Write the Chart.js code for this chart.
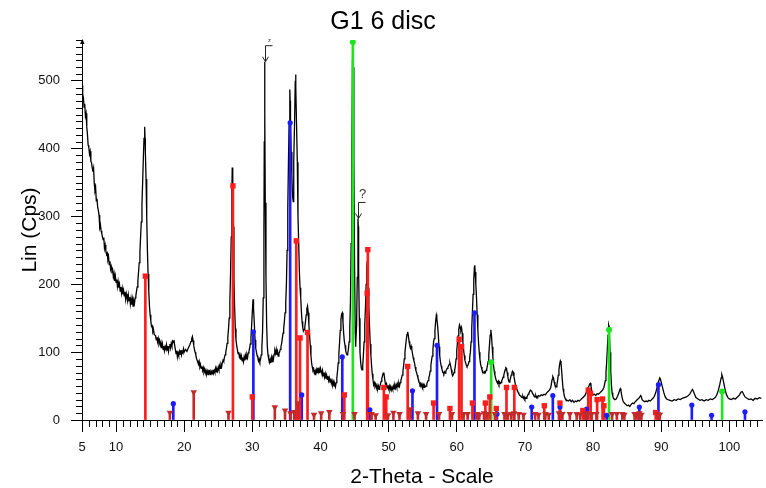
<!DOCTYPE html>
<html>
<head>
<meta charset="utf-8">
<title>G1 6 disc</title>
<script src="https://cdn.jsdelivr.net/npm/chart.js@4"></script>
<style>
    html, body { margin: 0; padding: 0; background: #fff; }
    #wrap { width: 766px; height: 488px; }
</style>
</head>
<body>
<div id="wrap"><canvas id="xrdChart" width="766" height="488"></canvas></div>
<script>
// measured scan: [2-theta, counts]
const scan = [
    [5.0,493],[5.1,480],[5.2,476],[5.3,461],[5.4,466],[5.5,448],[5.6,452],[5.7,432],[5.8,421],[5.9,405],
    [6.0,402],[6.1,392],[6.2,396],[6.3,381],[6.4,379],[6.5,372],[6.6,366],[6.7,371],[6.8,349],[6.9,338],
    [7.0,342],[7.1,323],[7.2,326],[7.3,314],[7.4,309],[7.5,302],[7.6,284],[7.7,288],[7.8,279],[7.9,275],
    [8.0,270],[8.1,266],[8.2,269],[8.3,253],[8.4,258],[8.5,249],[8.6,244],[8.7,246],[8.8,236],[8.9,240],
    [9.0,229],[9.1,234],[9.2,222],[9.3,226],[9.4,219],[9.5,221],[9.6,211],[9.7,216],[9.8,205],[9.9,212],
    [10.0,203],[10.1,207],[10.2,197],[10.3,204],[10.4,195],[10.5,200],[10.6,190],[10.7,196],[10.8,187],[10.9,194],
    [11.0,185],[11.1,191],[11.2,183],[11.3,189],[11.4,178],[11.5,186],[11.6,180],[11.7,175],[11.8,184],[11.9,176],
    [12.0,181],[12.1,171],[12.2,179],[12.3,170],[12.4,178],[12.5,168],[12.6,176],[12.7,172],[12.8,180],[12.9,183],
    [13.0,190],[13.1,196],[13.2,205],[13.3,218],[13.4,232],[13.5,248],[13.6,270],[13.7,292],[13.8,318],[13.9,350],
    [14.0,385],[14.1,415],[14.2,432],[14.25,415],[14.3,395],[14.4,355],[14.5,300],[14.6,250],[14.7,215],[14.8,190],
    [14.9,168],[15.0,155],[15.1,146],[15.2,138],[15.3,139],[15.4,130],[15.5,133],[15.6,126],[15.8,124],[15.9,118],
    [16.0,122],[16.1,115],[16.2,120],[16.3,113],[16.4,117],[16.5,110],[16.6,114],[16.7,106],[16.8,112],[16.9,104],
    [17.0,109],[17.1,102],[17.2,108],[17.3,105],[17.4,111],[17.5,103],[17.6,109],[17.7,101],[17.8,108],[17.9,112],
    [18.0,106],[18.1,113],[18.2,109],[18.3,116],[18.4,114],[18.5,118],[18.6,110],[18.7,104],[18.8,98],[18.9,102],
    [19.0,93],[19.1,99],[19.2,95],[19.3,101],[19.4,97],[19.5,103],[19.6,96],[19.7,101],[19.8,99],[19.9,105],
    [20.0,100],[20.2,104],[20.4,101],[20.6,106],[20.8,110],[21.0,116],[21.1,120],[21.2,123],[21.3,117],[21.4,110],
    [21.5,104],[21.6,100],[21.7,96],[21.8,91],[21.9,88],[22.0,85],[22.1,82],[22.2,86],[22.3,78],[22.4,81],
    [22.5,76],[22.6,79],[22.7,73],[22.8,77],[22.9,71],[23.0,75],[23.1,69],[23.2,73],[23.3,68],[23.4,72],
    [23.5,67],[23.6,74],[23.7,69],[23.8,72],[23.9,66],[24.0,71],[24.1,68],[24.2,74],[24.3,69],[24.4,73],
    [24.5,70],[24.6,76],[24.7,71],[24.8,75],[24.9,72],[25.0,78],[25.1,74],[25.2,80],[25.3,76],[25.4,82],
    [25.5,79],[25.6,85],[25.7,88],[25.8,86],[25.9,92],[26.0,96],[26.1,100],[26.2,106],[26.3,113],[26.4,122],
    [26.5,134],[26.6,150],[26.7,175],[26.8,215],[26.9,270],[27.0,340],[27.05,372],[27.1,360],[27.15,320],[27.2,285],
    [27.3,210],[27.4,165],[27.5,135],[27.6,118],[27.7,110],[27.8,104],[27.9,98],[28.0,100],[28.1,93],[28.2,96],
    [28.3,89],[28.4,94],[28.5,87],[28.6,92],[28.7,86],[28.8,93],[28.9,88],[29.0,95],[29.1,90],[29.2,96],
    [29.3,92],[29.4,99],[29.5,101],[29.6,106],[29.7,112],[29.8,122],[29.9,140],[30.0,160],[30.1,178],[30.15,176],
    [30.2,165],[30.3,140],[30.4,118],[30.5,106],[30.6,100],[30.7,95],[30.8,92],[30.9,87],[31.0,90],[31.1,86],
    [31.2,89],[31.3,96],[31.4,108],[31.5,130],[31.6,180],[31.7,280],[31.75,410],[31.8,528],[31.85,450],[31.9,320],
    [32.0,210],[32.1,140],[32.2,108],[32.3,96],[32.4,90],[32.5,85],[32.6,89],[32.7,84],[32.8,92],[32.9,86],
    [33.0,95],[33.1,90],[33.2,97],[33.3,102],[33.4,98],[33.5,104],[33.6,96],[33.7,101],[33.8,94],[33.9,98],
    [34.0,100],[34.1,104],[34.2,108],[34.3,113],[34.4,120],[34.5,128],[34.6,135],[34.7,145],[34.8,158],[34.9,172],
    [35.0,200],[35.1,250],[35.2,310],[35.3,380],[35.4,440],[35.5,487],[35.55,470],[35.6,430],[35.7,395],[35.8,360],
    [35.9,330],[36.0,322],[36.05,340],[36.1,380],[36.2,440],[36.3,500],[36.35,509],[36.4,490],[36.5,430],[36.6,380],
    [36.7,300],[36.8,262],[36.9,220],[37.0,195],[37.1,180],[37.2,160],[37.3,145],[37.4,136],[37.5,131],[37.6,133],
    [37.7,137],[37.8,145],[37.9,155],[38.0,164],[38.1,168],[38.2,158],[38.3,140],[38.4,125],[38.5,110],[38.6,95],
    [38.7,84],[38.8,78],[38.9,73],[39.0,75],[39.1,69],[39.2,72],[39.3,66],[39.4,74],[39.5,70],[39.6,77],
    [39.7,71],[39.8,75],[39.9,69],[40.0,76],[40.1,72],[40.2,68],[40.3,73],[40.4,65],[40.5,70],[40.6,63],
    [40.7,68],[40.8,61],[40.9,66],[41.0,60],[41.1,65],[41.2,58],[41.3,62],[41.4,56],[41.5,61],[41.6,54],
    [41.7,58],[41.8,52],[41.9,56],[42.0,50],[42.1,53],[42.2,49],[42.3,55],[42.4,62],[42.5,72],[42.6,84],
    [42.7,98],[42.8,114],[42.9,132],[43.0,148],[43.1,156],[43.2,158],[43.3,145],[43.4,128],[43.5,116],[43.6,110],
    [43.7,102],[43.8,98],[43.9,96],[44.0,98],[44.1,105],[44.2,115],[44.3,135],[44.4,175],[44.5,260],[44.6,400],
    [44.7,530],[44.75,553],[44.8,520],[44.9,380],[45.0,230],[45.1,130],[45.15,108],[45.2,112],[45.3,140],[45.4,210],
    [45.5,297],[45.55,285],[45.6,220],[45.7,150],[45.8,100],[45.9,85],[46.0,76],[46.1,74],[46.2,80],[46.3,96],
    [46.4,115],[46.5,140],[46.6,165],[46.7,200],[46.8,225],[46.85,234],[46.9,226],[47.0,195],[47.1,165],[47.2,138],
    [47.3,112],[47.4,95],[47.5,80],[47.6,68],[47.7,60],[47.8,52],[47.9,55],[48.0,50],[48.1,53],[48.2,47],
    [48.3,51],[48.4,46],[48.5,50],[48.6,45],[48.7,49],[48.8,53],[48.9,57],[49.0,61],[49.1,65],[49.2,69],
    [49.3,70],[49.4,62],[49.5,55],[49.6,50],[49.7,53],[49.8,47],[49.9,51],[50.0,46],[50.1,50],[50.2,45],
    [50.3,49],[50.4,44],[50.5,48],[50.6,45],[50.7,50],[50.8,46],[50.9,51],[51.0,47],[51.1,52],[51.2,48],
    [51.3,53],[51.4,49],[51.5,54],[51.6,50],[51.7,55],[51.8,58],[51.9,62],[52.0,66],[52.1,72],[52.2,80],
    [52.3,90],[52.4,100],[52.5,110],[52.6,119],[52.7,126],[52.8,130],[52.9,124],[53.0,116],[53.1,110],[53.2,106],
    [53.3,109],[53.4,104],[53.5,98],[53.6,92],[53.7,88],[53.8,84],[53.9,78],[54.0,73],[54.1,70],[54.2,66],
    [54.3,62],[54.4,59],[54.5,55],[54.6,52],[54.7,54],[54.8,50],[54.9,53],[55.0,49],[55.1,52],[55.2,48],
    [55.3,51],[55.4,49],[55.5,50],[55.6,53],[55.7,56],[55.8,58],[55.9,62],[56.0,66],[56.1,72],[56.2,80],
    [56.3,88],[56.4,94],[56.5,104],[56.6,115],[56.7,120],[56.8,132],[56.9,145],[57.0,154],[57.05,156],[57.1,150],
    [57.2,138],[57.3,124],[57.4,108],[57.5,95],[57.6,86],[57.7,80],[57.8,76],[57.9,72],[58.0,70],[58.1,68],
    [58.2,71],[58.3,69],[58.4,72],[58.5,74],[58.6,76],[58.7,78],[58.8,80],[58.9,82],[59.0,84],[59.1,80],
    [59.2,74],[59.3,68],[59.4,65],[59.5,67],[59.6,70],[59.7,74],[59.8,80],[59.9,90],[60.0,102],[60.1,114],
    [60.2,124],[60.3,134],[60.4,140],[60.5,137],[60.6,132],[60.7,136],[60.8,128],[60.9,115],[61.0,104],[61.1,95],
    [61.2,88],[61.3,84],[61.4,81],[61.5,79],[61.6,80],[61.7,82],[61.8,86],[61.9,92],[62.0,100],[62.1,115],
    [62.2,135],[62.3,160],[62.4,185],[62.5,208],[62.6,226],[62.65,228],[62.7,218],[62.8,200],[62.9,180],[63.0,155],
    [63.1,132],[63.2,114],[63.3,100],[63.4,90],[63.5,82],[63.6,78],[63.7,74],[63.8,72],[63.9,70],[64.0,69],
    [64.1,71],[64.2,70],[64.3,73],[64.4,75],[64.5,80],[64.6,86],[64.7,96],[64.8,110],[64.9,125],[65.0,133],
    [65.1,124],[65.2,108],[65.3,93],[65.4,80],[65.5,72],[65.6,66],[65.7,62],[65.8,58],[65.9,56],[66.0,54],
    [66.1,57],[66.2,53],[66.3,56],[66.4,54],[66.5,55],[66.6,58],[66.7,60],[66.8,63],[66.9,66],[67.0,70],
    [67.1,74],[67.2,77],[67.3,76],[67.4,70],[67.5,64],[67.6,58],[67.7,56],[67.8,58],[67.9,62],[68.0,66],
    [68.1,70],[68.2,72],[68.3,70],[68.4,64],[68.5,58],[68.6,52],[68.7,49],[68.8,46],[68.9,44],[69.0,41],
    [69.1,39],[69.2,37],[69.3,36],[69.4,35],[69.5,34],[69.6,33],[69.7,35],[69.8,32],[69.9,34],[70.0,31],
    [70.1,33],[70.2,32],[70.3,34],[70.4,36],[70.5,38],[70.6,40],[70.7,42],[70.8,44],[70.9,43],[71.0,42],
    [71.1,40],[71.2,38],[71.3,36],[71.4,35],[71.5,34],[71.6,36],[71.7,33],[71.8,35],[71.9,34],[72.0,36],
    [72.2,35],[72.4,37],[72.6,36],[72.8,38],[73.0,37],[73.2,40],[73.4,42],[73.6,44],[73.8,48],[73.9,54],
    [74.0,60],[74.1,64],[74.2,62],[74.3,56],[74.4,52],[74.5,50],[74.6,49],[74.7,52],[74.8,58],[74.9,66],
    [75.0,74],[75.1,82],[75.2,87],[75.3,84],[75.4,72],[75.5,58],[75.6,46],[75.7,40],[75.8,35],[75.9,32],
    [76.0,30],[76.2,29],[76.4,28],[76.6,30],[76.8,27],[77.0,29],[77.2,26],[77.4,28],[77.6,27],[77.8,29],
    [78.0,28],[78.2,30],[78.4,32],[78.6,34],[78.8,36],[79.0,40],[79.2,46],[79.4,50],[79.5,53],[79.6,54],
    [79.7,50],[79.8,44],[79.9,40],[80.0,37],[80.2,38],[80.4,36],[80.6,39],[80.8,38],[81.0,40],[81.2,42],
    [81.4,44],[81.6,48],[81.8,58],[81.9,70],[82.0,85],[82.1,105],[82.2,125],[82.3,140],[82.35,138],[82.4,128],
    [82.5,100],[82.6,72],[82.7,52],[82.8,40],[82.9,35],[83.0,32],[83.2,30],[83.4,31],[83.6,35],[83.8,40],
    [83.9,44],[84.0,46],[84.1,43],[84.2,37],[84.3,32],[84.4,28],[84.6,25],[84.8,23],[85.0,21],[85.2,22],
    [85.4,20],[85.6,23],[85.8,25],[86.0,24],[86.2,27],[86.4,29],[86.6,31],[86.8,33],[87.0,36],[87.1,34],
    [87.2,30],[87.4,28],[87.6,27],[87.8,28],[88.0,27],[88.2,29],[88.4,28],[88.6,30],[88.8,32],[89.0,35],
    [89.2,40],[89.4,48],[89.6,56],[89.8,62],[89.9,60],[90.0,56],[90.2,48],[90.4,40],[90.6,34],[90.8,31],
    [91.0,30],[91.3,29],[91.6,28],[91.9,30],[92.2,29],[92.5,31],[92.8,30],[93.1,32],[93.4,33],[93.7,34],
    [94.0,36],[94.2,38],[94.4,42],[94.6,45],[94.7,43],[94.9,38],[95.1,33],[95.4,31],[95.7,29],[96.0,30],
    [96.3,28],[96.6,30],[96.9,29],[97.2,31],[97.5,30],[97.8,32],[98.0,34],[98.2,38],[98.4,44],[98.6,52],
    [98.8,62],[98.9,67],[99.0,64],[99.2,54],[99.4,44],[99.6,37],[99.8,33],[100.0,31],[100.3,30],[100.6,32],
    [100.9,31],[101.2,34],[101.5,37],[101.7,41],[101.9,42],[102.1,38],[102.3,34],[102.6,32],[102.9,30],[103.2,31],
    [103.5,29],[103.8,32],[104.1,31],[104.4,33],[104.7,32]
];

// reference patterns: [2-theta, relative height in counts]
const phaseRed = [
    [14.3,212],[27.15,345],[30.0,34],[36.45,264],[37.0,121],[38.1,129],[43.5,37],[46.85,187],
    [46.95,251],[49.3,48],[49.65,34],[52.8,79],[56.6,25],[59.0,17],[60.35,119],[60.7,108],
    [62.3,25],[64.2,25],[64.85,34],[65.8,17],[67.3,48],[68.45,48],[72.85,21],[75.15,25],
    [78.5,14],[79.3,44],[79.65,39],[80.6,30],[81.4,31],[81.6,21],[89.2,11]
];
const phaseBlue = [
    [18.4,24],[30.15,130],[35.55,438],[37.25,37],[43.2,93],[47.25,15],[53.5,43],[57.1,110],
    [62.6,158],[65.9,9],[71.0,19],[74.1,36],[75.15,19],[79.05,16],[82.0,7],[86.8,19],
    [89.6,52],[94.5,22],[97.4,7],[102.3,12]
];
const phaseGreen = [[44.75,557],[65.05,85],[82.35,133],[98.95,42]];
const phaseMinor = [
    [17.9,11],[21.4,41],[26.5,11],[33.3,19],[34.8,14],[35.6,10],[36.15,12],[36.7,25],[39.05,8],
    [40.1,10],[41.3,12],[43.3,9],[45.0,9],[47.5,9],[48.1,7],[49.9,7],[50.7,11],[51.6,9],[53.2,16],
    [54.3,10],[55.5,9],[57.4,9],[59.3,9],[61.0,9],[61.6,9],[63.0,9],[63.3,8],[64.0,10],[64.5,9],
    [65.6,9],[67.0,9],[67.5,8],[68.0,9],[68.4,10],[69.1,9],[69.8,8],[71.5,9],[72.0,8],[73.0,9],
    [73.5,8],[75.0,10],[75.5,9],[76.6,9],[77.6,9],[78.1,8],[78.8,10],[79.2,9],[79.8,9],[80.5,9],
    [82.8,9],[83.5,9],[84.3,9],[84.6,8],[86.1,9],[86.4,9],[86.8,10],[87.1,8],[89.5,9],[89.8,8]
];

// labelled peaks, marked with a hooked arrow
const peakNotes = [
    { theta: 31.8, cps: 528, text: 'z', size: 6 },
    { theta: 45.5, cps: 297, text: '?', size: 13 }
];

const xLabelTicks = [5, 10, 20, 30, 40, 50, 60, 70, 80, 90, 100];
const yLabelTicks = [0, 100, 200, 300, 400, 500];
const xMinorStep = 1;
const yMinorStep = 10;

const FONT = "'Liberation Sans', Arial, Helvetica, sans-serif";

const toXY = points => points.map(([x, y]) => ({ x, y }));

// all stick sets share one bar group so each stick stays centred on its angle
function stickSet(points, color) {
    return {
        type: 'bar',
        data: toXY(points),
        backgroundColor: color,
        borderWidth: 0,
        stack: 'sticks',
        barThickness: 2,
        order: 1
    };
}

function tipSet(points, color, style, radius, rotation) {
    return {
        type: 'scatter',
        data: toXY(points),
        pointStyle: style,
        pointRadius: radius,
        pointRotation: rotation || 0,
        backgroundColor: color,
        borderColor: color,
        borderWidth: 0,
        order: 0
    };
}

// minor tick marks, the arrow cap on the y axis and the peak notes
const axisExtras = {
    id: 'axisExtras',
    afterDraw(chart) {
        const { ctx, scales: { x, y } } = chart;
        ctx.save();
        ctx.strokeStyle = '#000';
        ctx.fillStyle = '#000';
        ctx.lineWidth = 1;

        ctx.beginPath();
        for (let v = x.min; v <= x.max; v += xMinorStep) {
            const t = Math.round(v);
            if (xLabelTicks.includes(t)) continue;
            const px = Math.round(x.getPixelForValue(t)) + 0.5;
            ctx.moveTo(px, y.bottom);
            ctx.lineTo(px, y.bottom + 7);
        }
        for (let v = 0; v <= y.max; v += yMinorStep) {
            if (yLabelTicks.includes(v)) continue;
            const py = Math.round(y.getPixelForValue(v)) + 0.5;
            ctx.moveTo(x.left - 6, py);
            ctx.lineTo(x.left, py);
        }
        ctx.stroke();

        // small cap at the top of the y axis
        ctx.beginPath();
        ctx.moveTo(x.left - 2, y.top + 4);
        ctx.lineTo(x.left + 2.5, y.top + 4);
        ctx.lineTo(x.left + 0.5, y.top - 1);
        ctx.closePath();
        ctx.fill();

        peakNotes.forEach(note => {
            const px = Math.round(x.getPixelForValue(note.theta)) + 0.5;
            const tip = y.getPixelForValue(note.cps);
            const top = tip - 16;
            ctx.strokeStyle = '#222';
            ctx.beginPath();
            ctx.moveTo(px + 7, top);
            ctx.lineTo(px, top);
            ctx.lineTo(px, tip);
            ctx.moveTo(px - 3, tip - 5);
            ctx.lineTo(px, tip);
            ctx.lineTo(px + 3, tip - 5);
            ctx.stroke();
            ctx.fillStyle = '#333';
            ctx.font = `${note.size}px ${FONT}`;
            ctx.textAlign = 'center';
            ctx.textBaseline = 'bottom';
            ctx.fillText(note.text, px + 4, top - 2);
        });
        ctx.restore();
    }
};

const chart = new Chart(document.getElementById('xrdChart'), {
    type: 'line',
    data: {
        datasets: [
            {
                type: 'line',
                data: toXY(scan),
                borderColor: '#000',
                borderWidth: 1.3,
                pointRadius: 0,
                tension: 0,
                order: 3
            },
            stickSet(phaseMinor, '#c42a2a'),
            stickSet(phaseRed, '#ff1c1c'),
            stickSet(phaseBlue, '#1c1cff'),
            stickSet(phaseGreen, '#1ee61e'),
            tipSet(phaseMinor, '#c42a2a', 'triangle', 3.8, 180),
            tipSet(phaseRed, '#ff1c1c', 'rect', 3.8),
            tipSet(phaseBlue, '#1c1cff', 'circle', 2.6),
            tipSet(phaseGreen, '#1ee61e', 'circle', 3)
        ]
    },
    options: {
        responsive: false,
        animation: false,
        devicePixelRatio: 1,
        layout: { padding: 0 },
        plugins: {
            legend: { display: false },
            tooltip: { enabled: false },
            title: {
                display: true,
                text: 'G1 6 disc',
                color: '#000',
                font: { family: FONT, size: 25, weight: 'normal', lineHeight: 1.2 },
                padding: { top: 7, bottom: 3 }
            }
        },
        scales: {
            x: {
                type: 'linear',
                min: 5,
                max: 104.8,
                offset: false,
                afterBuildTicks: scale => { scale.ticks = xLabelTicks.map(v => ({ value: v })); },
                afterFit: scale => { scale.height = 68; },
                ticks: {
                    autoSkip: false,
                    maxRotation: 0,
                    padding: 8,
                    color: '#111',
                    font: { family: FONT, size: 13 },
                    callback: v => String(v)
                },
                grid: { offset: false, drawOnChartArea: false, tickLength: 12, tickColor: '#000' },
                border: { color: '#000', width: 1 },
                title: {
                    display: true,
                    text: '2-Theta - Scale',
                    color: '#000',
                    font: { family: FONT, size: 21, lineHeight: 1 },
                    padding: { top: 0, bottom: 0 }
                }
            },
            y: {
                type: 'linear',
                min: 0,
                max: 560,
                stacked: false,
                afterBuildTicks: scale => { scale.ticks = yLabelTicks.map(v => ({ value: v })); },
                afterFit: scale => { scale.width = 82; },
                ticks: {
                    padding: 11,
                    color: '#111',
                    font: { family: FONT, size: 13 },
                    callback: v => String(v)
                },
                grid: { drawOnChartArea: false, tickLength: 11, tickColor: '#000' },
                border: { color: '#000', width: 1 },
                title: {
                    display: true,
                    text: 'Lin (Cps)',
                    color: '#000',
                    font: { family: FONT, size: 21, lineHeight: 1.2 },
                    padding: { top: 17.4, bottom: 0 }
                }
            }
        }
    },
    plugins: [axisExtras]
});
</script>
</body>
</html>
